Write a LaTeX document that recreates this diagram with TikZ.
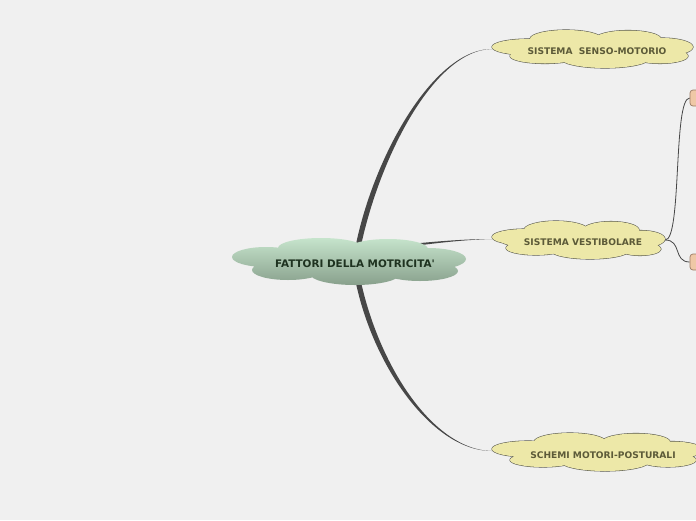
\documentclass[tikz,border=0pt]{standalone}
\usepackage{fontspec}
\setsansfont{DejaVu Sans}[Ligatures=TeXOff]
\definecolor{bgc}{HTML}{F0F0F0}
\definecolor{connc}{HTML}{474747}
\definecolor{yel}{HTML}{EDE8A8}
\definecolor{yelline}{HTML}{5A5A50}
\definecolor{yeltext}{HTML}{5C5A38}
\definecolor{gtop}{HTML}{C6E4CC}
\definecolor{gbot}{HTML}{88A08C}
\definecolor{ctext}{HTML}{1E3220}
\definecolor{peach}{HTML}{EFC8A6}
\definecolor{peachline}{HTML}{9A7A64}
\pgfdeclarelayer{bglayer}
\pgfdeclarelayer{connlayer}
\pgfdeclarelayer{cloudlayer}
\pgfsetlayers{bglayer,connlayer,cloudlayer,main}
\tikzset{
  conn/.style={fill=connc},
  thinconn/.style={draw=connc, line width=0.8pt},
  smalltext/.style={font=\sffamily\bfseries\fontsize{9.1}{10}\selectfont, text=yeltext, inner sep=0pt},
  bigtext/.style={font=\sffamily\bfseries\fontsize{10.4}{11}\selectfont, text=ctext, inner sep=0pt},
  cloudline/.style={draw=yelline, line width=1.1pt},
  cloudfill/.style={fill=yel},
  peachbox/.style={draw=peachline, fill=peach, rounded corners=3pt, minimum width=24pt, minimum height=16pt, inner sep=0pt, line width=0.7pt},
  sensoshape/.style={insert path={
    (528,47) ellipse [x radius=36, y radius=8]
    (566,39) ellipse [x radius=36, y radius=9]
    (628,39) ellipse [x radius=33, y radius=8.5]
    (662,47) ellipse [x radius=31, y radius=9]
    (545,56) ellipse [x radius=35, y radius=7.5]
    (605,58) ellipse [x radius=45, y radius=10]
    (660,56) ellipse [x radius=28, y radius=7.5]
    (595,48) ellipse [x radius=90, y radius=12]}},
  vestshape/.style={insert path={
    (525,237) ellipse [x radius=33, y radius=8]
    (556,230) ellipse [x radius=32, y radius=9]
    (611,230) ellipse [x radius=28, y radius=8.5]
    (641,239) ellipse [x radius=24, y radius=8.5]
    (536,248) ellipse [x radius=30, y radius=7]
    (590,250) ellipse [x radius=40, y radius=9]
    (640,249) ellipse [x radius=21, y radius=6.5]
    (580,240) ellipse [x radius=80, y radius=11]}},
  schemishape/.style={insert path={
    (528,449) ellipse [x radius=36, y radius=8]
    (570,442) ellipse [x radius=36, y radius=9]
    (636,442) ellipse [x radius=34, y radius=8.5]
    (672,450) ellipse [x radius=31, y radius=8.5]
    (543,460) ellipse [x radius=33, y radius=7]
    (605,461) ellipse [x radius=45, y radius=10]
    (668,460) ellipse [x radius=28, y radius=7]
    (600,452) ellipse [x radius=92, y radius=12]}},
  centershape/.style={insert path={
    (266,257) ellipse [x radius=34, y radius=10]
    (321,248) ellipse [x radius=43, y radius=10]
    (388,249) ellipse [x radius=40, y radius=10]
    (428,259) ellipse [x radius=38, y radius=11]
    (288,270) ellipse [x radius=36, y radius=10]
    (355,274) ellipse [x radius=45, y radius=11]
    (420,271) ellipse [x radius=38, y radius=10]
    (350,261) ellipse [x radius=100, y radius=16]}}
}
\begin{document}
\begin{tikzpicture}[x=1pt,y=-1pt]
\useasboundingbox (0,0) rectangle (696,520);
\clip (0,0) rectangle (696,520);
\begin{pgfonlayer}{bglayer}
\fill[bgc] (0,0) rectangle (696,520);
\end{pgfonlayer}
% text nodes
\node[bigtext] (c) at (355,264) {FATTORI DELLA MOTRICITA'};
\node[smalltext, minimum width=210pt] (s) at (597,51) {SISTEMA\ \ SENSO-MOTORIO};
\node[smalltext, minimum width=182pt] (v) at (583,242) {SISTEMA VESTIBOLARE};
\node[smalltext, minimum width=222pt] (m) at (603,455) {SCHEMI MOTORI-POSTURALI};
\node[peachbox] (p1) at (702,98) {};
\node[peachbox] (p2) at (702,262) {};
% connectors
\begin{pgfonlayer}{connlayer}
\fill[conn] ([xshift=-2.5pt]c.center) .. controls (366,170) and (430,49) .. ([yshift=2pt]s.west)
  .. controls (431,50) and (373,170) .. ([xshift=2.5pt]c.center) -- cycle;
\fill[conn] ([xshift=-2.5pt]c.center) .. controls (366,358) and (430,451) .. ([yshift=4pt]m.west)
  .. controls (431,450) and (373,358) .. ([xshift=2.5pt]c.center) -- cycle;
\fill[conn] ([yshift=14pt]c.center) .. controls (400,245) and (450,239) .. ([yshift=3pt]v.west)
  .. controls (450,240) and (400,248) .. ([yshift=10pt]c.center) -- cycle;
\draw[thinconn] ([xshift=-9pt,yshift=2pt]v.east) .. controls (682,240) and (673,98) .. (p1.west);
\draw[thinconn] ([xshift=-9pt,yshift=2pt]v.east) .. controls (682,240) and (673,262) .. (p2.west);
\end{pgfonlayer}
% clouds
\begin{pgfonlayer}{cloudlayer}
\shade[top color=gtop, bottom color=gbot, centershape];
\path[cloudline, sensoshape];
\path[cloudfill, sensoshape];
\path[cloudline, vestshape];
\path[cloudfill, vestshape];
\path[cloudline, schemishape];
\path[cloudfill, schemishape];
\end{pgfonlayer}
\end{tikzpicture}
\end{document}
